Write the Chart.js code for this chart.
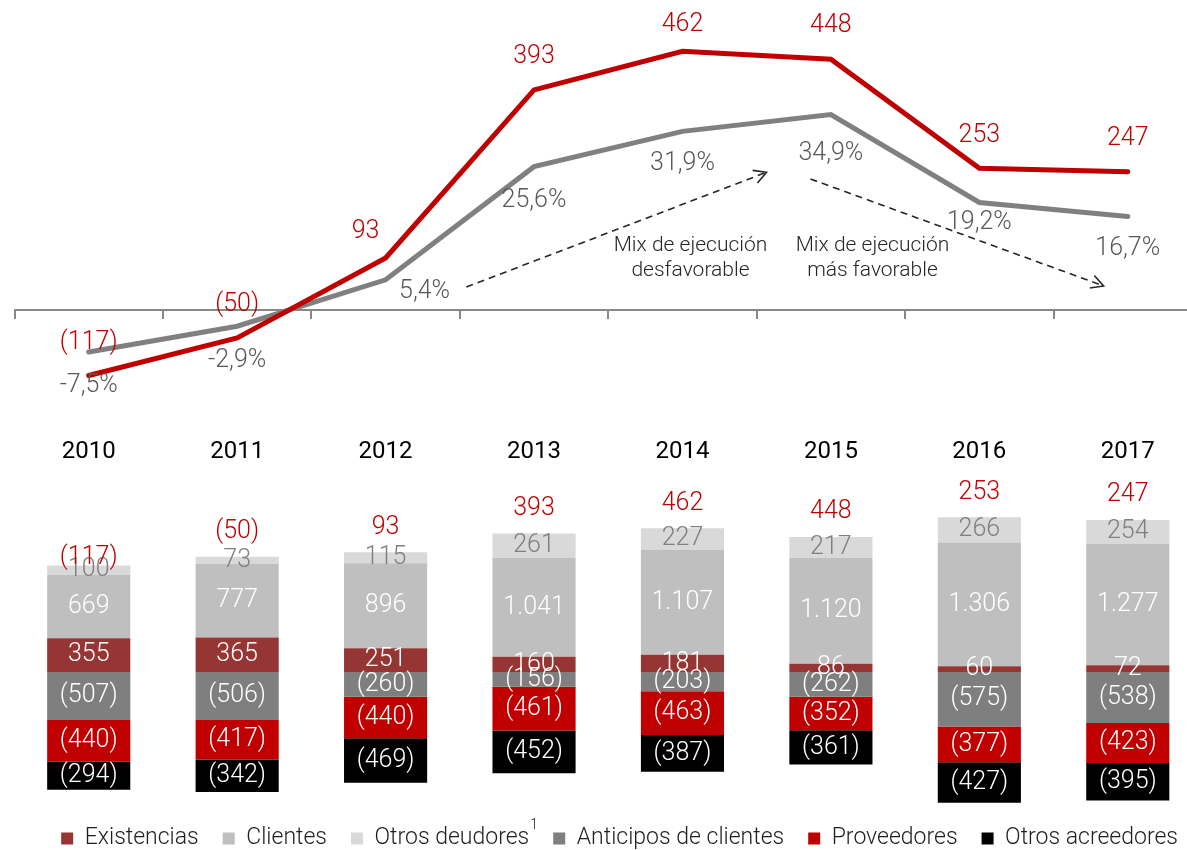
<!DOCTYPE html>
<html>
<head>
<meta charset="utf-8">
<script src="https://cdn.jsdelivr.net/npm/chart.js@4.4.1/dist/chart.umd.min.js"></script>
<style>
  html, body { margin: 0; padding: 0; background: #fff; overflow: hidden; }
  canvas { display: block; }
</style>
</head>
<body>
<canvas id="lineChart" width="1202" height="420"></canvas>
<canvas id="barChart" width="1202" height="440"></canvas>
<script>
  // data
  const years = ['2010', '2011', '2012', '2013', '2014', '2015', '2016', '2017'];
  const capitalCirculante = [-117, -50, 93, 393, 462, 448, 253, 247];
  const pctVentas = [-7.5, -2.9, 5.4, 25.6, 31.9, 34.9, 19.2, 16.7];

  const existencias = [355, 365, 251, 160, 181, 86, 60, 72];
  const clientes = [669, 777, 896, 1041, 1107, 1120, 1306, 1277];
  const otrosDeudores = [100, 73, 115, 261, 227, 217, 266, 254];
  const anticipos = [-507, -506, -260, -156, -203, -262, -575, -538];
  const proveedores = [-440, -417, -440, -461, -463, -352, -377, -423];
  const otrosAcreedores = [-294, -342, -469, -452, -387, -361, -427, -395];

  const FONT = 'Roboto, "Liberation Sans", Arial, sans-serif';
  Chart.defaults.font.family = FONT;

  function fmtNum(v) {
    const s = Math.abs(v).toString().replace(/\B(?=(\d{3})+(?!\d))/g, '.');
    return v < 0 ? '(' + s + ')' : s;
  }
  function fmtPct(v) {
    return v.toFixed(1).replace('.', ',') + '%';
  }

  // manual nudges for a few labels (dx, dy)
  const labelShift = {
    2: { red: [-20, 7], gray: [39, -22] },
    4: { red: [0, 6], gray: [0, -2] },
    5: { gray: [0, 5] },
    6: { gray: [0, -14] },
    7: { gray: [0, -2] }
  };

  const lineLabels = {
    id: 'lineLabels',
    afterDatasetsDraw(chart) {
      const ctx = chart.ctx;
      const red = chart.getDatasetMeta(0).data;
      const gray = chart.getDatasetMeta(1).data;
      ctx.save();
      ctx.textAlign = 'center';
      ctx.textBaseline = 'middle';
      ctx.font = '300 25px ' + FONT;
      red.forEach((pt, i) => {
        const s = labelShift[i] || {};
        const r = s.red || [0, 0];
        const g = s.gray || [0, 0];
        ctx.fillStyle = '#c00000';
        ctx.fillText(fmtNum(capitalCirculante[i]), pt.x + r[0], pt.y - 33 + r[1]);
        ctx.fillStyle = '#595959';
        ctx.fillText(fmtPct(pctVentas[i]), gray[i].x + g[0], gray[i].y + 34 + g[1]);
      });
      ctx.restore();
    }
  };

  // dashed arrows + notes, positioned in scale units
  const notes = {
    id: 'notes',
    afterDatasetsDraw(chart) {
      const ctx = chart.ctx;
      const x = chart.scales.x, y = chart.scales.y;
      const arrows = [
        { from: [2.544, 41], to: [4.566, 246] },
        { from: [4.862, 234], to: [6.837, 43] }
      ];
      ctx.save();
      ctx.strokeStyle = '#262626';
      ctx.lineWidth = 1.6;
      arrows.forEach(a => {
        const x1 = x.getPixelForValue(a.from[0]), y1 = y.getPixelForValue(a.from[1]);
        const x2 = x.getPixelForValue(a.to[0]), y2 = y.getPixelForValue(a.to[1]);
        ctx.setLineDash([7, 5]);
        ctx.beginPath();
        ctx.moveTo(x1, y1);
        ctx.lineTo(x2, y2);
        ctx.stroke();
        ctx.setLineDash([]);
        const ang = Math.atan2(y2 - y1, x2 - x1);
        const len = 14;
        ctx.beginPath();
        ctx.moveTo(x2 - len * Math.cos(ang - 0.5), y2 - len * Math.sin(ang - 0.5));
        ctx.lineTo(x2, y2);
        ctx.lineTo(x2 - len * Math.cos(ang + 0.5), y2 - len * Math.sin(ang + 0.5));
        ctx.stroke();
      });
      ctx.fillStyle = '#262626';
      ctx.font = '300 21px ' + FONT;
      ctx.textAlign = 'center';
      ctx.textBaseline = 'middle';
      const texts = [
        { at: 4.054, lines: ['Mix de ejecución', 'desfavorable'] },
        { at: 5.28, lines: ['Mix de ejecución', 'más favorable'] }
      ];
      texts.forEach(t => {
        const tx = x.getPixelForValue(t.at);
        ctx.fillText(t.lines[0], tx, y.getPixelForValue(114));
        ctx.fillText(t.lines[1], tx, y.getPixelForValue(70));
      });
      ctx.restore();
    }
  };

  new Chart(document.getElementById('lineChart'), {
    type: 'line',
    data: {
      labels: years,
      datasets: [
        {
          label: 'Capital circulante',
          data: capitalCirculante,
          yAxisID: 'y',
          borderColor: '#c00000',
          borderWidth: 5,
          pointRadius: 0,
          borderCapStyle: 'round',
          tension: 0
        },
        {
          label: '% s/ ventas',
          data: pctVentas,
          yAxisID: 'y2',
          borderColor: '#808080',
          borderWidth: 5,
          pointRadius: 0,
          borderCapStyle: 'round',
          tension: 0
        }
      ]
    },
    options: {
      responsive: false,
      animation: false,
      events: [],
      layout: { padding: { left: 14.5, right: 0, top: 0, bottom: 0 } },
      plugins: { legend: { display: false }, tooltip: { enabled: false } },
      scales: {
        x: {
          position: { y: 0 },
          offset: true,
          grid: { display: true, offset: true, drawOnChartArea: false, drawTicks: true, tickLength: 8, color: '#888888', lineWidth: 2 },
          border: { display: true, color: '#888888', width: 2 },
          ticks: { display: false }
        },
        y: { display: false, min: -196.4, max: 553.6 },
        y2: { display: false, min: -19.64, max: 55.36 }
      }
    },
    plugins: [lineLabels, notes]
  });

  const barLabels = {
    id: 'barLabels',
    afterDatasetsDraw(chart) {
      const ctx = chart.ctx;
      const yScale = chart.scales.y;
      ctx.save();
      ctx.textAlign = 'center';
      ctx.textBaseline = 'middle';
      ctx.font = '300 25px ' + FONT;
      chart.data.datasets.forEach((ds, di) => {
        chart.getDatasetMeta(di).data.forEach((bar, i) => {
          ctx.fillStyle = di === 2 ? '#7f7f7f' : '#ffffff';
          ctx.fillText(fmtNum(ds.data[i]), bar.x, (bar.y + bar.base) / 2);
        });
      });
      const first = chart.getDatasetMeta(0).data;
      years.forEach((yr, i) => {
        let pos = 0;
        chart.data.datasets.forEach(ds => { if (ds.data[i] > 0) pos += ds.data[i]; });
        const dy = i === 0 ? -8 : -25;
        ctx.fillStyle = '#c00000';
        ctx.fillText(fmtNum(capitalCirculante[i]), first[i].x, yScale.getPixelForValue(pos) + dy);
      });
      ctx.restore();
    }
  };

  const superscript = {
    id: 'superscript',
    afterDraw(chart) {
      const hb = chart.legend.legendHitBoxes[2];
      if (!hb) return;
      const ctx = chart.ctx;
      ctx.save();
      ctx.fillStyle = '#262626';
      ctx.font = '300 14px ' + FONT;
      ctx.textAlign = 'left';
      ctx.textBaseline = 'middle';
      ctx.fillText('1', hb.left + hb.width + 1, hb.top - 2);
      ctx.restore();
    }
  };

  new Chart(document.getElementById('barChart'), {
    type: 'bar',
    data: {
      labels: years,
      datasets: [
        { label: 'Existencias', data: existencias, backgroundColor: '#963634' },
        { label: 'Clientes', data: clientes, backgroundColor: '#bfbfbf' },
        { label: 'Otros deudores', data: otrosDeudores, backgroundColor: '#d9d9d9' },
        { label: 'Anticipos de clientes', data: anticipos, backgroundColor: '#7f7f7f' },
        { label: 'Proveedores', data: proveedores, backgroundColor: '#c00000' },
        { label: 'Otros acreedores', data: otrosAcreedores, backgroundColor: '#000000' }
      ]
    },
    options: {
      responsive: false,
      animation: false,
      events: [],
      layout: { padding: { left: 14.5, right: 0, top: 0, bottom: 0 } },
      datasets: { bar: { barPercentage: 0.56, categoryPercentage: 1, borderWidth: 0, clip: false } },
      plugins: {
        legend: {
          position: 'bottom',
          align: 'end',
          labels: {
            boxWidth: 12,
            boxHeight: 12,
            padding: 24,
            color: '#1f1f1f',
            font: { size: 23, weight: '300' }
          }
        },
        tooltip: { enabled: false }
      },
      scales: {
        x: {
          position: 'top',
          stacked: true,
          grid: { display: false, drawTicks: false },
          border: { display: false },
          ticks: { color: '#000000', padding: 14, font: { size: 24, weight: '400' } },
          afterFit(scale) { scale.height = 60; }
        },
        y: { stacked: true, display: false, min: -1382, max: 2025 }
      }
    },
    plugins: [barLabels, superscript]
  });
</script>
</body>
</html>
